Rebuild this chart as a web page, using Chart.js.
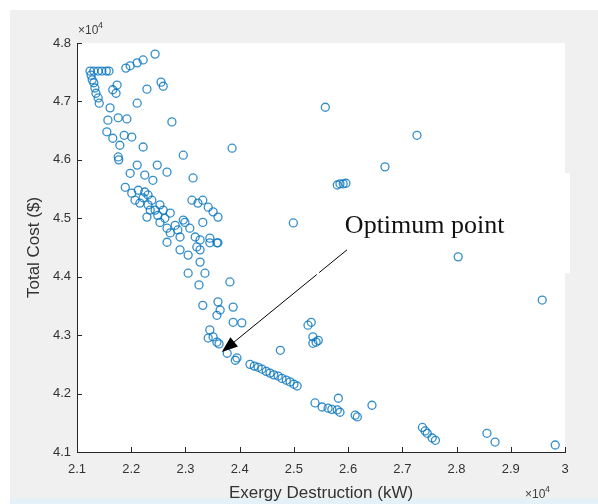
<!DOCTYPE html>
<html>
<head>
<meta charset="utf-8">
<script src="https://cdn.jsdelivr.net/npm/chart.js@4.4.1/dist/chart.umd.min.js"></script>
<style>
html,body{margin:0;padding:0;background:#fff;}
#wrap{width:598px;height:504px;position:relative;}
</style>
</head>
<body>
<div id="wrap"><canvas id="c" width="598" height="504"></canvas></div>
<script>
// Exergy destruction (x 10^4 kW)
const exergy = [
2.124,2.131,2.139,2.146,2.154,2.159,2.126,2.190,2.198,2.211,2.222,2.244,
2.131,2.133,2.135,2.139,2.141,2.128,2.166,2.174,2.172,2.229,2.255,2.259,
2.211,2.161,2.157,2.176,2.192,2.275,2.155,2.166,2.187,2.201,2.179,2.222,
2.386,2.176,2.177,2.296,2.211,2.198,2.225,2.248,2.266,2.240,2.314,2.189,
2.201,2.213,2.231,2.216,2.231,2.244,2.235,2.229,2.249,2.253,2.272,2.266,
2.272,2.296,2.308,2.312,2.323,2.332,2.342,2.351,2.360,2.207,2.222,2.299,
2.332,2.318,2.327,2.345,2.360,2.499,2.225,2.238,2.253,2.259,2.262,2.281,
2.286,2.290,2.266,2.290,2.305,2.321,2.327,2.345,2.358,2.327,2.305,2.336,
2.325,2.382,2.332,2.360,2.364,2.358,2.388,2.388,2.404,2.345,2.342,2.351,
2.358,2.362,2.377,2.392,2.395,2.475,
2.419,2.427,2.434,2.441,2.449,2.456,2.463,2.471,2.478,2.486,2.493,2.500,2.506,
2.526,2.532,2.535,2.545,2.535,2.541,2.539,2.552,2.563,2.570,2.580,2.582,
2.585,2.617,2.613,2.644,2.737,2.742,2.746,2.755,2.761,2.856,2.871,2.982,
2.558,2.727,2.668,2.580,2.585,2.591,2.596,2.803,2.958
];
// Total cost (x 10^4 $)
const totalCost = [
4.752,4.752,4.752,4.752,4.752,4.752,4.745,4.757,4.761,4.766,4.771,4.781,
4.732,4.723,4.714,4.706,4.697,4.737,4.720,4.728,4.714,4.721,4.733,4.726,
4.697,4.689,4.668,4.672,4.670,4.665,4.648,4.637,4.642,4.639,4.625,4.622,
4.620,4.605,4.600,4.608,4.591,4.577,4.574,4.591,4.579,4.565,4.569,4.553,
4.543,4.548,4.540,4.526,4.523,4.514,4.514,4.502,4.505,4.493,4.509,4.483,
4.475,4.497,4.483,4.531,4.526,4.531,4.519,4.511,4.502,4.531,4.535,4.493,
4.493,4.468,4.463,4.466,4.458,4.492,4.545,4.531,4.523,4.514,4.500,4.488,
4.480,4.468,4.459,4.446,4.437,4.451,4.446,4.458,4.458,4.425,4.406,4.406,
4.386,4.391,4.351,4.357,4.343,4.334,4.348,4.322,4.321,4.309,4.295,4.297,
4.288,4.285,4.269,4.257,4.261,4.274,
4.250,4.247,4.245,4.242,4.238,4.235,4.232,4.230,4.226,4.223,4.220,4.216,4.213,
4.317,4.322,4.297,4.291,4.286,4.288,4.184,4.177,4.175,4.173,4.172,4.192,
4.168,4.160,4.163,4.180,4.142,4.136,4.132,4.124,4.120,4.132,4.117,4.112,
4.690,4.642,4.588,4.557,4.559,4.559,4.560,4.434,4.360
];
const xTicks = [2.1,2.2,2.3,2.4,2.5,2.6,2.7,2.8,2.9,3];
const yTicks = [4.1,4.2,4.3,4.4,4.5,4.6,4.7,4.8];
const xTitle = 'Exergy Destruction (kW)';
const yTitle = 'Total Cost ($)';
const noteText = 'Optimum point';
// annotation anchors in data units
const arrowTip = [2.367, 4.271];
const arrowTail = [2.598, 4.446];
const notePos = [2.594, 4.474];
const noteBox = [2.52, 4.577, 4.406];

const pts = exergy.map((x,i)=>({x:x, y:totalCost[i]}));
const FONT = "'Liberation Sans', Arial, sans-serif";
const AX = '#262626';

const decor = {
  id:'decor',
  beforeDraw(chart){
    const ctx = chart.ctx, a = chart.chartArea;
    ctx.save();
    ctx.fillStyle = '#ffffff'; ctx.fillRect(0,0,598,504);
    ctx.fillStyle = '#f0f0f0'; ctx.fillRect(10,10,588,488);
    ctx.fillStyle = '#e4f2f8'; ctx.fillRect(10,498,588,6);
    ctx.fillStyle = '#ffffff'; ctx.fillRect(a.left,a.top,a.right-a.left,a.bottom-a.top);
    const xs = chart.scales.x, ys = chart.scales.y;
    const bx = xs.getPixelForValue(noteBox[0]);
    const by1 = ys.getPixelForValue(noteBox[1]), by2 = ys.getPixelForValue(noteBox[2]);
    ctx.fillRect(bx, by1, 570-bx, by2-by1);
    ctx.restore();
  },
  afterDraw(chart){
    const ctx = chart.ctx, a = chart.chartArea;
    const xs = chart.scales.x, ys = chart.scales.y;
    ctx.save();
    ctx.strokeStyle = AX; ctx.lineWidth = 1;
    ctx.beginPath();
    xTicks.forEach(v=>{const p=Math.round(xs.getPixelForValue(v))+0.5; ctx.moveTo(p,a.bottom); ctx.lineTo(p,a.bottom-5);});
    yTicks.forEach(v=>{const p=Math.round(ys.getPixelForValue(v))+0.5; ctx.moveTo(a.left,p); ctx.lineTo(a.left+5,p);});
    ctx.stroke();
    // x10^4 exponents
    ctx.fillStyle = '#404040';
    ctx.font = '12px ' + FONT; ctx.textBaseline='alphabetic'; ctx.textAlign='left';
    ctx.fillText('\u00d710', a.left+1, 34);
    ctx.font = '9px ' + FONT; ctx.fillText('4', a.left+21, 28);
    ctx.font = '12px ' + FONT; ctx.fillText('\u00d710', a.right-40, 498);
    ctx.font = '9px ' + FONT; ctx.fillText('4', a.right-20, 492);
    // annotation text
    ctx.fillStyle = '#111';
    ctx.font = "26px 'Liberation Serif', 'Times New Roman', serif";
    ctx.fillText(noteText, xs.getPixelForValue(notePos[0]), ys.getPixelForValue(notePos[1]));
    // arrow
    const tx = xs.getPixelForValue(arrowTip[0]), ty = ys.getPixelForValue(arrowTip[1]);
    const sx = xs.getPixelForValue(arrowTail[0]), sy = ys.getPixelForValue(arrowTail[1]);
    const ang = Math.atan2(ty-sy, tx-sx);
    const ux = Math.cos(ang), uy = Math.sin(ang);
    ctx.strokeStyle = '#000'; ctx.lineWidth = 1;
    const g1 = 36, g2 = 39;
    ctx.beginPath();
    ctx.moveTo(sx, sy); ctx.lineTo(sx+ux*g1, sy+uy*g1);
    ctx.moveTo(sx+ux*g2, sy+uy*g2); ctx.lineTo(tx-ux*14, ty-uy*14);
    ctx.stroke();
    const hl = 16, hw = 6;
    ctx.fillStyle = '#000';
    ctx.beginPath();
    ctx.moveTo(tx, ty);
    ctx.lineTo(tx-ux*hl - uy*hw, ty-uy*hl + ux*hw);
    ctx.lineTo(tx-ux*hl + uy*hw, ty-uy*hl - ux*hw);
    ctx.closePath(); ctx.fill();
    ctx.restore();
  }
};

new Chart(document.getElementById('c'), {
  type:'scatter',
  data:{datasets:[{
    data:pts,
    pointStyle:'circle',
    pointRadius:4,
    pointHoverRadius:4,
    borderWidth:1.3,
    borderColor:'rgba(0,114,189,0.8)',
    backgroundColor:'rgba(0,0,0,0)'
  }]},
  options:{
    responsive:false,
    animation:false,
    devicePixelRatio:1,
    events:[],
    layout:{padding:{left:0,right:33,top:43,bottom:0}},
    plugins:{legend:{display:false},tooltip:{enabled:false}},
    scales:{
      x:{
        type:'linear', min:2.1, max:3,
        afterFit(s){ s.height = 52; },
        afterBuildTicks(s){ s.ticks = xTicks.map(v=>({value:v})); },
        ticks:{padding:10, color:'#333', font:{family:FONT,size:13},
          callback:v=>String(+(+v).toFixed(2))},
        grid:{display:true, drawOnChartArea:false, drawTicks:false},
        border:{display:true, color:AX, width:1},
        title:{display:true, text:xTitle, color:'#333', font:{family:FONT,size:17}, padding:{top:0,bottom:0}}
      },
      y:{
        type:'linear', min:4.1, max:4.8,
        afterFit(s){ s.width = 77; },
        afterBuildTicks(s){ s.ticks = yTicks.map(v=>({value:v})); },
        ticks:{padding:6, color:'#333', font:{family:FONT,size:13},
          callback:v=>String(+(+v).toFixed(2))},
        grid:{display:true, drawOnChartArea:false, drawTicks:false},
        border:{display:true, color:AX, width:1},
        title:{display:true, text:yTitle, color:'#333', font:{family:FONT,size:17}, padding:{top:24,bottom:0}}
      }
    }
  },
  plugins:[decor]
});
</script>
</body>
</html>
